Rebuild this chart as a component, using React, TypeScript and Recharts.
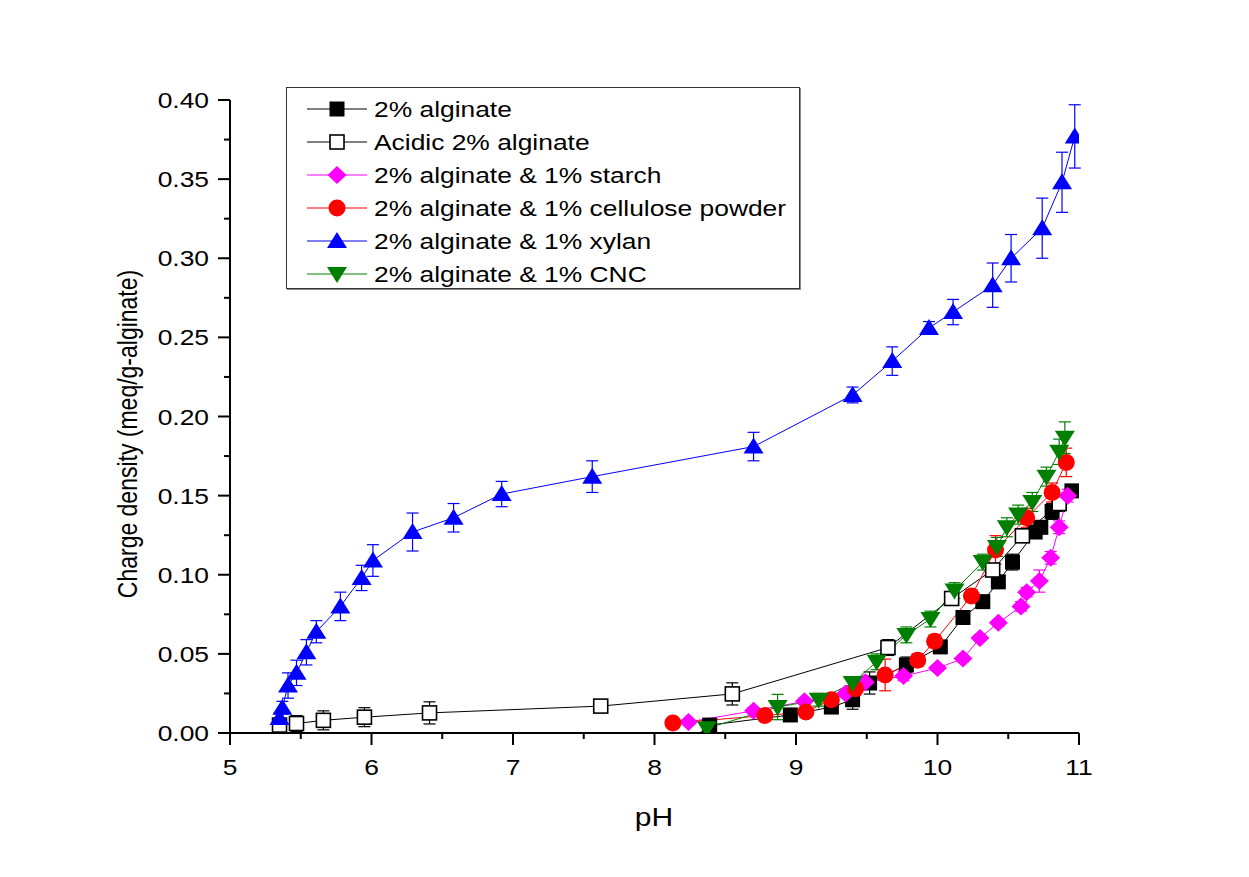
import React from 'react';
import { LineChart, Line, XAxis, YAxis, ErrorBar, Legend } from 'recharts';

const FONT = 'Arial, "Liberation Sans", sans-serif';
const STRETCH = 1.2; // the source figure's text is a little wide

// x ticks (major on integers, minor on halves)
const xTicks = [5, 5.5, 6, 6.5, 7, 7.5, 8, 8.5, 9, 9.5, 10, 10.5, 11];
// y ticks (major every 0.05, minor in between)
const yTicks = [
  0, 0.025, 0.05, 0.075, 0.1, 0.125, 0.15, 0.175, 0.2, 0.225, 0.25, 0.275, 0.3, 0.325, 0.35, 0.375, 0.4,
];

const alginatePH = [8.39, 8.96, 9.25, 9.4, 9.52, 9.78, 10.02, 10.18, 10.32, 10.43, 10.53, 10.69, 10.73, 10.81, 10.95];
const alginateCD = [0.005, 0.0114, 0.0164, 0.021, 0.0316, 0.043, 0.0544, 0.073, 0.083, 0.0955, 0.108, 0.127, 0.13, 0.14, 0.153];
const alginateErr = [0.002, 0.004, 0.003, 0.006, 0.007, 0.005, 0.004, 0.003, 0.003, 0.004, 0.005, 0.004, 0.004, 0.005, 0.004];

const acidicPH = [5.35, 5.47, 5.66, 5.95, 6.41, 7.62, 8.55, 9.65, 10.1, 10.39, 10.6, 10.86];
const acidicCD = [0.005, 0.006, 0.008, 0.01, 0.0127, 0.017, 0.0247, 0.054, 0.085, 0.103, 0.1246, 0.145];
const acidicErr = [0.003, 0.005, 0.006, 0.006, 0.007, 0.002, 0.007, 0.005, 0.004, 0.003, 0.004, 0.005];

const starchPH = [8.24, 8.7, 9.06, 9.35, 9.49, 9.76, 10.0, 10.18, 10.3, 10.43, 10.59, 10.63, 10.72, 10.8, 10.86, 10.92];
const starchCD = [0.007, 0.014, 0.02, 0.025, 0.032, 0.036, 0.041, 0.047, 0.06, 0.0696, 0.08, 0.089, 0.096, 0.1107, 0.13, 0.15];
const starchErr = [0.001, 0.002, 0.002, 0.002, 0.002, 0.003, 0.002, 0.002, 0.002, 0.002, 0.003, 0.003, 0.007, 0.004, 0.004, 0.004];

const cellulosePH = [8.13, 8.78, 9.07, 9.25, 9.42, 9.63, 9.86, 9.98, 10.24, 10.41, 10.63, 10.81, 10.91];
const celluloseCD = [0.0063, 0.011, 0.0133, 0.021, 0.028, 0.0367, 0.046, 0.058, 0.0866, 0.1157, 0.136, 0.152, 0.171];
const celluloseErr = [0.002, 0.002, 0.003, 0.003, 0.004, 0.01, 0.004, 0.004, 0.004, 0.009, 0.006, 0.006, 0.009];

const xylanPH = [
  5.35, 5.37, 5.41, 5.47, 5.54, 5.61, 5.78, 5.93, 6.01, 6.29, 6.58, 6.92, 7.56, 8.7, 9.4, 9.68, 9.94, 10.11, 10.39,
  10.52, 10.74, 10.88, 10.97,
];
const xylanCD = [
  0.0095, 0.016, 0.03, 0.038, 0.051, 0.064, 0.08, 0.098, 0.109, 0.127, 0.136, 0.151, 0.162, 0.181, 0.2136, 0.235,
  0.256, 0.266, 0.283, 0.3, 0.319, 0.348, 0.377,
];
const xylanErr = [
  0.003, 0.004, 0.008, 0.008, 0.008, 0.007, 0.009, 0.008, 0.01, 0.012, 0.009, 0.008, 0.01, 0.009, 0.005, 0.009, 0.004,
  0.008, 0.014, 0.015, 0.019, 0.019, 0.02,
];

const cncPH = [8.37, 8.87, 9.16, 9.4, 9.57, 9.78, 9.95, 10.12, 10.32, 10.42, 10.49, 10.57, 10.67, 10.77, 10.86, 10.9];
const cncCD = [0.003, 0.0164, 0.021, 0.0316, 0.045, 0.062, 0.072, 0.09, 0.108, 0.1176, 0.13, 0.138, 0.146, 0.162, 0.1777, 0.1866];
const cncErr = [0.002, 0.008, 0.004, 0.004, 0.005, 0.005, 0.005, 0.005, 0.005, 0.006, 0.006, 0.006, 0.006, 0.006, 0.008, 0.01];

type Shape = 'square' | 'openSquare' | 'diamond' | 'circle' | 'triUp' | 'triDown';

const toRows = (ph: number[], cd: number[], err: number[]) =>
  ph.map((x, i) => ({ x, y: cd[i], err: err[i] }));

const series = [
  { name: '2% alginate', shape: 'square' as Shape, color: '#000000', data: toRows(alginatePH, alginateCD, alginateErr) },
  { name: 'Acidic 2% alginate', shape: 'openSquare' as Shape, color: '#000000', data: toRows(acidicPH, acidicCD, acidicErr) },
  { name: '2% alginate & 1% starch', shape: 'diamond' as Shape, color: '#ff00ff', data: toRows(starchPH, starchCD, starchErr) },
  { name: '2% alginate & 1% cellulose powder', shape: 'circle' as Shape, color: '#ff0000', data: toRows(cellulosePH, celluloseCD, celluloseErr) },
  { name: '2% alginate & 1% xylan', shape: 'triUp' as Shape, color: '#0000ff', data: toRows(xylanPH, xylanCD, xylanErr) },
  { name: '2% alginate & 1% CNC', shape: 'triDown' as Shape, color: '#007f00', data: toRows(cncPH, cncCD, cncErr) },
];

function marker(shape: Shape, color: string, cx: number, cy: number, key?: string) {
  switch (shape) {
    case 'square':
      return <rect key={key} x={cx - 7.5} y={cy - 7.5} width={15} height={15} fill={color} />;
    case 'openSquare':
      return <rect key={key} x={cx - 7} y={cy - 7} width={14} height={14} fill="#fff" stroke={color} strokeWidth={1.6} />;
    case 'diamond':
      return <polygon key={key} points={`${cx},${cy - 9} ${cx + 9.5},${cy} ${cx},${cy + 9} ${cx - 9.5},${cy}`} fill={color} />;
    case 'circle':
      return <circle key={key} cx={cx} cy={cy} r={8.5} fill={color} />;
    case 'triUp':
      return <polygon key={key} points={`${cx},${cy - 9} ${cx + 10},${cy + 7} ${cx - 10},${cy + 7}`} fill={color} />;
    case 'triDown':
      return <polygon key={key} points={`${cx},${cy + 9} ${cx + 10},${cy - 7} ${cx - 10},${cy - 7}`} fill={color} />;
  }
}

// text drawn a bit wider, like the source
const Wide = ({ x, y, size, anchor = 'start', children }: any) => (
  <text
    transform={`translate(${x},${y}) scale(${STRETCH},1)`}
    textAnchor={anchor}
    fontSize={size}
    fontFamily={FONT}
    fill="#000"
  >
    {children}
  </text>
);

const XTick = (props: any) => {
  const { x, y, payload } = props;
  const v = payload.value;
  const major = Math.abs(v - Math.round(v)) < 1e-6;
  return (
    <g>
      <line x1={x} x2={x} y1={y} y2={y + (major ? 12 : 6)} stroke="#000" strokeWidth={2} />
      {major && (
        <Wide x={x} y={y + 42} size={22} anchor="middle">
          {v}
        </Wide>
      )}
    </g>
  );
};

const YTick = (props: any) => {
  const { x, y, payload } = props;
  const v = payload.value;
  const major = Math.abs(v * 20 - Math.round(v * 20)) < 1e-6;
  return (
    <g>
      <line x1={x - (major ? 12 : 6)} x2={x} y1={y} y2={y} stroke="#000" strokeWidth={2} />
      {major && (
        <Wide x={x - 21} y={y + 8} size={22} anchor="end">
          {v.toFixed(2)}
        </Wide>
      )}
    </g>
  );
};

const LegendBox = () => (
  <div
    style={{
      width: 514,
      height: 202,
      boxSizing: 'border-box',
      border: '1px solid #333',
      boxShadow: '1px 1px 0 #888',
      background: '#fff',
    }}
  >
    <svg width={512} height={200}>
      {series.map((s, i) => {
        const cy = 21 + i * 33;
        return (
          <g key={s.name}>
            <line x1={20} x2={80} y1={cy} y2={cy} stroke={s.color} strokeWidth={1} />
            {marker(s.shape, s.color, 50, cy)}
            <Wide x={87} y={cy + 8} size={22}>
              {s.name}
            </Wide>
          </g>
        );
      })}
    </svg>
  </div>
);

export default function App() {
  return (
    <div style={{ width: 1241, height: 869, background: '#fff' }}>
      <LineChart width={1241} height={869} margin={{ top: 92, right: 170, bottom: 44, left: 0 }}>
        <XAxis
          dataKey="x"
          type="number"
          domain={[5, 11]}
          ticks={xTicks}
          interval={0}
          allowDataOverflow
          height={100}
          tickSize={0}
          tickMargin={0}
          tickLine={false}
          tick={<XTick />}
          axisLine={{ stroke: '#000', strokeWidth: 2 }}
          label={{
            content: () => (
              <Wide x={646} y={818} size={25} anchor="middle">
                pH
              </Wide>
            ),
          }}
        />
        <YAxis
          dataKey="y"
          type="number"
          domain={[0, 0.4]}
          ticks={yTicks}
          interval={0}
          allowDataOverflow
          width={222}
          tickSize={0}
          tickMargin={0}
          tickLine={false}
          tick={<YTick />}
          axisLine={{ stroke: '#000', strokeWidth: 2 }}
          label={{
            content: () => (
              <text
                transform={`translate(129,426) scale(${STRETCH},1) rotate(-90)`}
                textAnchor="middle"
                fontSize={23}
                fontFamily={FONT}
                fill="#000"
              >
                Charge density (meq/g-alginate)
              </text>
            ),
          }}
        />
        <Legend
          layout="horizontal"
          verticalAlign="middle"
          align="center"
          content={() => <LegendBox />}
          wrapperStyle={{ left: 278, top: 79, width: 514, height: 202 }}
        />
        {series.map((s) => (
          <Line
            key={s.name}
            data={s.data}
            dataKey="y"
            name={s.name}
            stroke={s.color}
            strokeWidth={1}
            isAnimationActive={false}
            dot={(p: any) => marker(s.shape, s.color, p.cx, p.cy, `${s.name}-${p.index}`)}
            activeDot={false}
          >
            <ErrorBar dataKey="err" direction="y" width={6} stroke={s.color} strokeWidth={1.2} />
          </Line>
        ))}
      </LineChart>
    </div>
  );
}
